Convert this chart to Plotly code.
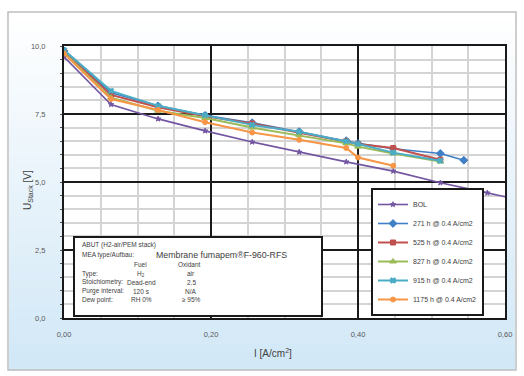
import plotly.graph_objects as go

# Polarisation curves of the stack over operating time
x_bol = [0.0, 0.064, 0.128, 0.192, 0.256, 0.32, 0.384, 0.448, 0.512, 0.576, 0.64]
u_bol = [9.60, 7.85, 7.32, 6.88, 6.47, 6.10, 5.74, 5.40, 4.97, 4.60, 4.22]

x_271 = [0.0, 0.064, 0.128, 0.192, 0.256, 0.32, 0.384, 0.40, 0.448, 0.512, 0.544]
u_271 = [9.82, 8.28, 7.80, 7.45, 7.18, 6.85, 6.52, 6.42, 6.22, 6.05, 5.80]

x_525 = [0.0, 0.064, 0.128, 0.192, 0.256, 0.32, 0.384, 0.40, 0.448, 0.512]
u_525 = [9.80, 8.20, 7.75, 7.42, 7.15, 6.82, 6.50, 6.40, 6.25, 5.82]

x_827 = [0.0, 0.064, 0.128, 0.192, 0.256, 0.32, 0.384, 0.40, 0.448, 0.512]
u_827 = [9.75, 8.10, 7.62, 7.35, 7.00, 6.72, 6.42, 6.30, 6.05, 5.75]

x_915 = [0.0, 0.064, 0.128, 0.192, 0.256, 0.32, 0.384, 0.40, 0.448, 0.512]
u_915 = [9.85, 8.35, 7.80, 7.46, 7.10, 6.85, 6.50, 6.40, 6.08, 5.78]

x_1175 = [0.0, 0.064, 0.128, 0.192, 0.256, 0.32, 0.384, 0.40, 0.448]
u_1175 = [9.72, 8.05, 7.65, 7.20, 6.82, 6.55, 6.25, 5.90, 5.60]

series_names = ["BOL", "271 h @ 0.4 A/cm2", "525 h @ 0.4 A/cm2",
                "827 h @ 0.4 A/cm2", "915 h @ 0.4 A/cm2", "1175 h @ 0.4 A/cm2"]
series_x = [x_bol, x_271, x_525, x_827, x_915, x_1175]
series_u = [u_bol, u_271, u_525, u_827, u_915, u_1175]
colors = ["#7356a2", "#3f7fc6", "#c0504d", "#9bbb59", "#4bacc6", "#f79646"]
symbols = ["star", "diamond", "square", "triangle-up", "x", "circle"]
msizes = [4, 6, 5, 6, 5, 5]
lwidths = [1.6, 1.6, 2, 2, 2, 2]

x_ticks = [0.0, 0.2, 0.4, 0.6]
y_ticks = [0.0, 2.5, 5.0, 7.5, 10.0]

# Operating conditions shown in the info box
info_head = "ABUT (H2-air/PEM stack)"
info_type_label = "MEA type/Aufbau:"
info_membrane = "Membrane fumapem®F-960-RFS"
cond_cols = ["Fuel", "Oxidant"]
cond_rows = ["Type:", "Stoichiometry:", "Purge interval:", "Dew point:"]
cond_fuel = ["H<sub>2</sub>", "Dead-end", "120 s", "RH 0%"]
cond_ox = ["air", "2.5", "N/A", "≥ 95%"]

W, H = 524, 376
L, R, T, B = 64, 19, 46, 58
pw, ph = W - L - R, H - T - B


def px(xp):
    return (xp - L) / pw


def py(yp):
    return (H - B - yp) / ph


fig = go.Figure()
for name, xs, us, c, s, ms, lw in zip(series_names, series_x, series_u, colors,
                                      symbols, msizes, lwidths):
    fig.add_trace(go.Scatter(
        x=xs, y=us, name=name, mode="lines+markers",
        line=dict(color=c, width=lw),
        marker=dict(color=c, symbol=s, size=ms, line=dict(color=c, width=1)),
        cliponaxis=True,
    ))

shapes = []
# chart area: light vertical gradient inside a frame
x0, x1, y0, y1 = 8, 516, 12, 370
nb = 40
top = (255, 255, 255)
bot = (210, 232, 247)
for i in range(nb):
    f = i / (nb - 1)
    r = int(top[0] + (bot[0] - top[0]) * f)
    g = int(top[1] + (bot[1] - top[1]) * f)
    b = int(top[2] + (bot[2] - top[2]) * f)
    ya = y0 + (y1 - y0) * i / nb
    yb = y0 + (y1 - y0) * (i + 1) / nb + 0.5
    shapes.append(dict(type="rect", xref="paper", yref="paper",
                       x0=px(x0 + 1), x1=px(x1 - 1), y0=py(yb), y1=py(ya),
                       fillcolor=f"rgb({r},{g},{b})", line=dict(width=0),
                       layer="below"))
shapes.append(dict(type="rect", xref="paper", yref="paper",
                   x0=0, x1=1, y0=0, y1=1, fillcolor="white",
                   line=dict(width=0), layer="below"))
shapes.append(dict(type="rect", xref="paper", yref="paper",
                   x0=px(x0), x1=px(x1), y0=py(y1), y1=py(y0),
                   fillcolor="rgba(0,0,0,0)", line=dict(color="#bfbfbf", width=1.5),
                   layer="below"))

# info box
bx0, bx1, by0, by1 = 74, 322, 237, 316
shapes.append(dict(type="rect", xref="paper", yref="paper",
                   x0=px(bx0), x1=px(bx1), y0=py(by1), y1=py(by0),
                   fillcolor="white", line=dict(color="#1a1a1a", width=2),
                   layer="above"))

ann = []
small = dict(family="Liberation Sans", size=6.5, color="#404040")


def text(xp, yp, s, font=small, xanchor="left"):
    ann.append(dict(xref="paper", yref="paper", x=px(xp), y=py(yp), text=s,
                    showarrow=False, xanchor=xanchor, yanchor="middle", font=font))


text(80, 245, info_head)
text(80, 255, info_type_label)
text(154, 254.5, info_membrane,
     font=dict(family="Liberation Sans", size=8.8, color="#404040"))
text(140, 264.5, cond_cols[0], xanchor="center")
text(189, 264.5, cond_cols[1], xanchor="center")
row_y = [273.5, 282, 291, 299.5]
for lab, fu, ox, yy in zip(cond_rows, cond_fuel, cond_ox, row_y):
    text(80, yy, lab)
    text(141, yy, fu, xanchor="center")
    text(191, yy, ox, xanchor="center")

# axis titles
ann.append(dict(xref="paper", yref="paper", x=px(28), y=py(190),
                text="U<sub>Stack</sub> [V]", textangle=-90, showarrow=False,
                xanchor="center", yanchor="middle",
                font=dict(family="Liberation Sans", size=10, color="#404040")))
ann.append(dict(xref="paper", yref="paper", x=px(273), y=py(353),
                text="I [A/cm<sup>2</sup>]", showarrow=False,
                xanchor="center", yanchor="middle",
                font=dict(family="Liberation Sans", size=10, color="#404040")))

tickfont = dict(family="Liberation Sans", size=7.5, color="#595959")
fig.update_layout(
    width=W, height=H,
    margin=dict(l=L, r=R, t=T, b=B),
    paper_bgcolor="white", plot_bgcolor="white",
    separators=",.",
    shapes=shapes, annotations=ann,
    showlegend=True,
    legend=dict(x=px(371), y=py(316), xanchor="left", yanchor="bottom",
                bgcolor="white", bordercolor="#1a1a1a", borderwidth=2,
                font=dict(family="Liberation Sans", size=7, color="#404040"),
                itemwidth=30, tracegroupgap=0),
    xaxis=dict(range=[0, 0.6], tickvals=x_ticks, tickformat=".2f",
               showgrid=True, gridcolor="#1a1a1a", gridwidth=2,
               minor=dict(dtick=0.05, showgrid=True, gridcolor="#d4d4d4",
                          gridwidth=2),
               showline=True, linecolor="#1a1a1a", linewidth=2, mirror=True,
               ticks="", ticklabelstandoff=8, tickfont=tickfont,
               zeroline=False),
    yaxis=dict(range=[0, 10], tickvals=y_ticks, tickformat=".1f",
               showgrid=True, gridcolor="#1a1a1a", gridwidth=2,
               minor=dict(dtick=0.5, showgrid=True, gridcolor="#d4d4d4",
                          gridwidth=2, ticks="outside", ticklen=2,
                          tickcolor="#555555"),
               showline=True, linecolor="#1a1a1a", linewidth=2, mirror=True,
               ticks="", ticklabelstandoff=15, tickfont=tickfont,
               zeroline=False),
)

fig.write_html("out.html")
